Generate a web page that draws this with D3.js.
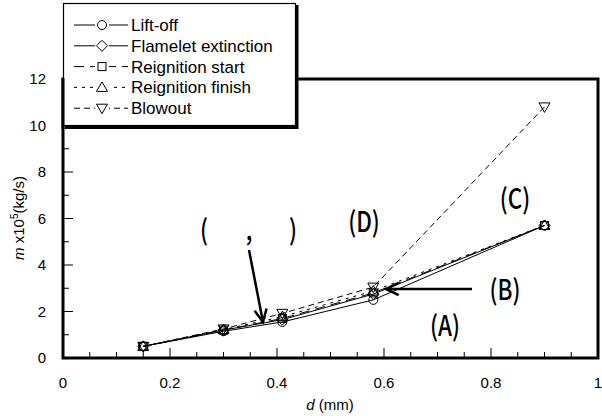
<!DOCTYPE html>
<html>
<head>
<meta charset="utf-8">
<script src="https://cdn.jsdelivr.net/npm/d3@7"></script>
<style>
  body { margin: 0; background: #fff; }
  text { font-family: "Liberation Sans", Arial, sans-serif; }
  .note { font-family: "Noto Sans CJK JP", sans-serif; font-weight: 500; }
</style>
</head>
<body>
<div id="chart"></div>
<script>
// data
var diameters = [0.15, 0.3, 0.41, 0.58, 0.9];
var liftOff = [0.5, 1.15, 1.55, 2.5, 5.7];
var flameletExtinction = [0.5, 1.2, 1.65, 2.75, 5.7];
var reignitionStart = [0.5, 1.2, 1.7, 2.8, 5.7];
var reignitionFinish = [0.5, 1.22, 1.78, 2.88, 5.7];
var blowout = [0.5, 1.25, 1.92, 3.05, 10.8];

var seriesNames = ["Lift-off", "Flamelet extinction", "Reignition start", "Reignition finish", "Blowout"];
var seriesValues = [liftOff, flameletExtinction, reignitionStart, reignitionFinish, blowout];
var seriesDash = [null, null, "10,6", "3,5", "6,4"];
var seriesMarker = ["circle", "diamond", "square", "up", "down"];

var xTicks = [0, 0.2, 0.4, 0.6, 0.8, 1];
var yTicks = [0, 2, 4, 6, 8, 10, 12];

var width = 602, height = 416;
var svg = d3.select("#chart").append("svg")
    .attr("width", width)
    .attr("height", height);

var x = d3.scaleLinear().domain([0, 1]).range([63, 598]);
var y = d3.scaleLinear().domain([0, 12]).range([358, 79]);

// ticks (inside)
var minorX = d3.range(0, 1.001, 0.05);
svg.append("g").selectAll("line").data(minorX).enter().append("line")
  .attr("x1", function(d) { return x(d); })
  .attr("x2", function(d) { return x(d); })
  .attr("y1", y(0))
  .attr("y2", function(d, i) { return y(0) - (i % 4 == 0 ? 10 : 6); })
  .attr("stroke", "#000").attr("stroke-width", 1);

var minorY = d3.range(0, 12.001, 1);
svg.append("g").selectAll("line").data(minorY).enter().append("line")
  .attr("x1", x(0))
  .attr("x2", function(d, i) { return x(0) + (i % 2 == 0 ? 10 : 6); })
  .attr("y1", function(d) { return y(d); })
  .attr("y2", function(d) { return y(d); })
  .attr("stroke", "#000").attr("stroke-width", 1);

// tick labels
svg.append("g").selectAll("text").data(xTicks).enter().append("text")
  .attr("x", function(d) { return x(d); })
  .attr("y", 388)
  .attr("text-anchor", "middle")
  .attr("font-size", 15)
  .text(function(d) { return d; });

svg.append("g").selectAll("text").data(yTicks).enter().append("text")
  .attr("x", 46)
  .attr("y", function(d) { return y(d) + 5; })
  .attr("text-anchor", "end")
  .attr("font-size", 15)
  .text(function(d) { return d; });

// axis titles
var xt = svg.append("text").attr("x", 330).attr("y", 410)
  .attr("text-anchor", "middle").attr("font-size", 15);
xt.append("tspan").attr("font-style", "italic").text("d");
xt.append("tspan").text("\u00a0(mm)");

var yt = svg.append("text")
  .attr("transform", "translate(24,218) rotate(-90)")
  .attr("text-anchor", "middle").attr("font-size", 15);
yt.append("tspan").attr("font-style", "italic").text("m");
yt.append("tspan").text(" x10");
yt.append("tspan").attr("font-size", 10).attr("dy", -6).text("5");
yt.append("tspan").attr("dy", 6).text("(kg/s)");

// lines
var line = d3.line()
  .x(function(d) { return x(d[0]); })
  .y(function(d) { return y(d[1]); });

seriesValues.forEach(function(vals, i) {
  var pts = diameters.map(function(d, j) { return [d, vals[j]]; });
  svg.append("path")
    .attr("d", line(pts))
    .attr("fill", "none")
    .attr("stroke", "#000")
    .attr("stroke-width", 1)
    .attr("stroke-dasharray", seriesDash[i]);
});

function drawMarker(g, kind, cx, cy) {
  var shape;
  if (kind == "circle") {
    shape = g.append("circle").attr("cx", cx).attr("cy", cy).attr("r", 4.5);
  } else if (kind == "diamond") {
    shape = g.append("path").attr("d", "M" + cx + "," + (cy - 5.5) + "L" + (cx + 5.5) + "," + cy +
      "L" + cx + "," + (cy + 5.5) + "L" + (cx - 5.5) + "," + cy + "Z");
  } else if (kind == "square") {
    shape = g.append("rect").attr("x", cx - 4).attr("y", cy - 4).attr("width", 8).attr("height", 8);
  } else if (kind == "up") {
    shape = g.append("path").attr("d", "M" + cx + "," + (cy - 5.5) + "L" + (cx + 5.5) + "," + (cy + 4) +
      "L" + (cx - 5.5) + "," + (cy + 4) + "Z");
  } else {
    shape = g.append("path").attr("d", "M" + cx + "," + (cy + 5.5) + "L" + (cx + 5.5) + "," + (cy - 4) +
      "L" + (cx - 5.5) + "," + (cy - 4) + "Z");
  }
  shape.attr("fill", "none").attr("stroke", "#000").attr("stroke-width", 1);
}

seriesValues.forEach(function(vals, i) {
  var g = svg.append("g");
  diameters.forEach(function(d, j) {
    drawMarker(g, seriesMarker[i], x(d), y(vals[j]));
  });
});

// frame
svg.append("rect")
  .attr("x", x(0)).attr("y", y(12))
  .attr("width", x(1) - x(0)).attr("height", y(0) - y(12))
  .attr("fill", "none").attr("stroke", "#000").attr("stroke-width", 3);

// legend with shadow
var leg = svg.append("g");
leg.append("rect").attr("x", 63.5).attr("y", 3.5).attr("width", 232).attr("height", 122)
  .attr("fill", "#fff").attr("stroke", "#000").attr("stroke-width", 1.2);
leg.append("line").attr("x1", 65).attr("x2", 298).attr("y1", 127).attr("y2", 127)
  .attr("stroke", "#000").attr("stroke-width", 4);
leg.append("line").attr("x1", 297).attr("x2", 297).attr("y1", 5).attr("y2", 129)
  .attr("stroke", "#000").attr("stroke-width", 3);
leg.append("line").attr("x1", 63).attr("x2", 63).attr("y1", 78).attr("y2", 129)
  .attr("stroke", "#000").attr("stroke-width", 3);

seriesNames.forEach(function(name, i) {
  var ly = 25 + i * 20.8;
  leg.append("line").attr("x1", 74).attr("x2", 128).attr("y1", ly).attr("y2", ly)
    .attr("stroke", "#000").attr("stroke-width", 1)
    .attr("stroke-dasharray", seriesDash[i]);
  leg.append("rect").attr("x", 95).attr("y", ly - 7).attr("width", 14).attr("height", 14).attr("fill", "#fff");
  drawMarker(leg, seriesMarker[i], 102, ly);
  leg.append("text").attr("x", 131).attr("y", ly + 6).attr("font-size", 17).text(name);
});

// annotations
var notes = [
  {t: "(", x: 204, y: 240},
  {t: ",", x: 249, y: 240},
  {t: ")", x: 293, y: 240},
  {t: "(D)", x: 364, y: 232},
  {t: "(C)", x: 515, y: 209},
  {t: "(B)", x: 505, y: 300},
  {t: "(A)", x: 445, y: 336}
];
svg.append("g").selectAll("text").data(notes).enter().append("text")
  .attr("class", "note")
  .attr("x", function(d) { return d.x; })
  .attr("y", function(d) { return d.y; })
  .attr("text-anchor", "middle")
  .attr("font-size", 28)
  .attr("transform", function(d) { return "translate(" + d.x + ",0) scale(0.8,1) translate(" + (-d.x) + ",0)"; })
  .text(function(d) { return d.t; });

function arrow(x1, y1, x2, y2) {
  var a = Math.atan2(y2 - y1, x2 - x1);
  var L = 14, w = 0.45;
  svg.append("line").attr("x1", x1).attr("y1", y1).attr("x2", x2).attr("y2", y2)
    .attr("stroke", "#000").attr("stroke-width", 2.5);
  var p1 = [x2 - L * Math.cos(a - w), y2 - L * Math.sin(a - w)];
  var p2 = [x2 - L * Math.cos(a + w), y2 - L * Math.sin(a + w)];
  svg.append("path").attr("d", "M" + p1 + "L" + x2 + "," + y2 + "L" + p2)
    .attr("fill", "none").attr("stroke", "#000").attr("stroke-width", 2.5);
}
arrow(249, 250, 263, 322);
arrow(472, 289, 386, 289);
</script>
</body>
</html>
